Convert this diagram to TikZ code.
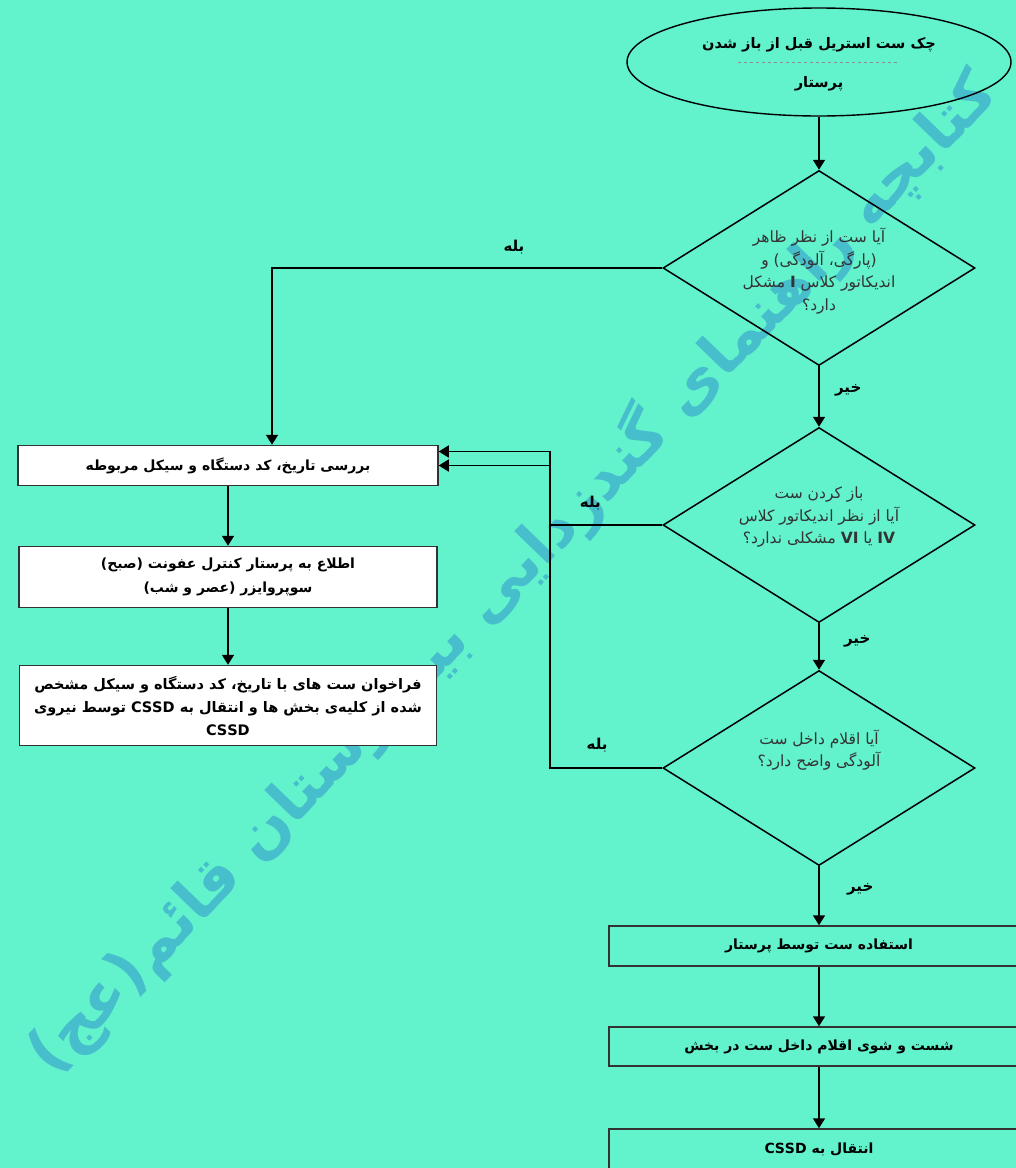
\documentclass[tikz,border=0pt]{standalone}
\usepackage{fontspec}
\usetikzlibrary{arrows.meta,calc,positioning,shapes.geometric}
\newfontfamily\arabicfont[Script=Arabic]{DejaVu Sans}
\TeXXeTstate=1
\definecolor{bgteal}{RGB}{98,242,204}
\definecolor{wmblue}{RGB}{70,190,204}
\definecolor{edgegray}{RGB}{50,50,50}
\newcommand{\prs}[1]{{\arabicfont\beginR #1\endR}}
\newcommand{\ltr}[1]{\beginL #1\endL{}}

\begin{document}
\begin{tikzpicture}[x=1pt,y=-1pt,>={Triangle[length=10pt,width=12pt]},every node/.style={align=center},
    box/.style={draw=edgegray,line width=1.5pt,minimum width=420pt,minimum height=40pt,inner sep=0pt,font=\fontsize{14}{23.5}\selectfont\bfseries},
    ask/.style={draw,diamond,line width=1.5pt,minimum width=312pt,minimum height=195pt,inner sep=0pt},
    asktext/.style={font=\fontsize{15.5}{22.5}\selectfont,text=black!80},
    ans/.style={font=\fontsize{15}{16}\selectfont\bfseries},
    flow/.style={->,line width=1.6pt}]
    \fill[bgteal] (0,0) rectangle (1016,1168);
    \useasboundingbox (0,0) rectangle (1016,1168);
    \clip (0,0) rectangle (1016,1168);
    % watermark
    \node[rotate=46,text=wmblue,font=\fontsize{61}{61}\selectfont\bfseries] (wm) at (512,572) {\prs{کتابچه راهنمای گندزدایی بیمارستان قائم(عج)}};
    % start
    \node[draw,ellipse,line width=1.4pt,minimum width=384pt,minimum height=108pt] (start) at (819,62) {};
    \node[font=\fontsize{14.5}{16}\selectfont\bfseries] (title) at (819,45) {\prs{چک ست استریل قبل از باز شدن}};
    \node[font=\fontsize{14.5}{16}\selectfont\bfseries] (who) at (819,84) {\prs{پرستار}};
    \draw[black!45,dashed,thin] ([xshift=-81pt]start.center) -- ([xshift=80pt]start.center);
    % questions
    \node[ask] (q1) at (819,268) {};
    \node[asktext] (q1t) at (819,271) {\prs{آیا ست از نظر ظاهر}\\ \prs{(پارگی، آلودگی) و}\\ \prs{اندیکاتور کلاس \textbf{I} مشکل}\\ \prs{دارد؟}};
    \node[ask] (q2) at (819,525) {};
    \node[asktext] (q2t) at (819,517) {\prs{باز کردن ست}\\ \prs{آیا از نظر اندیکاتور کلاس}\\ \prs{\textbf{IV} یا \textbf{VI} مشکلی ندارد؟}};
    \node[ask] (q3) at (819,768) {};
    \node[asktext] (q3t) at (819,750) {\prs{آیا اقلام داخل ست}\\ \prs{آلودگی واضح دارد؟}};
    % left column
    \node[box,fill=white] (chk) at (228,465.5) {\prs{بررسی تاریخ، کد دستگاه و سیکل مربوطه}};
    \node[box,fill=white,minimum width=418pt,minimum height=61pt] (inf) at (228,577) {\prs{اطلاع به پرستار کنترل عفونت (صبح)}\\ \prs{سوپروایزر (عصر و  شب)}};
    \node[box,fill=white,minimum width=417pt,minimum height=80pt,font=\fontsize{14.5}{23}\selectfont\bfseries] (rec) at (228,705.5) {\prs{فراخوان ست های با تاریخ، کد دستگاه و سیکل مشخص}\\ \prs{شده از کلیه‌ی بخش ها و انتقال به \ltr{CSSD} توسط نیروی}\\ {\arabicfont CSSD}};
    % right column
    \node[box] (use) at (819,946) {\prs{استفاده ست توسط پرستار}};
    \node[box,minimum height=39pt] (wash) at (819,1046.5) {\prs{شست و شوی اقلام داخل ست در بخش}};
    \node[box] (send) at (819,1149) {\prs{انتقال به \ltr{CSSD}}};
    \coordinate (bus) at (550,465);
    \coordinate (chkin) at ([yshift=14pt]chk.east);
    % connectors
    \draw[flow] (start.south) -- (q1.north);
    \draw[flow] (q1.south) -- node[ans,pos=0.4,right=12pt] (no1) {\prs{خیر}} (q2.north);
    \draw[flow] (q2.south) -- node[ans,pos=0.38,right=21pt] (no2) {\prs{خیر}} (q3.north);
    \draw[flow] (q3.south) -- node[ans,pos=0.39,right=24pt] (no3) {\prs{خیر}} (use.north);
    \draw[flow] (q1.west) -| node[ans,pos=0.19,above=10pt] (yes1) {\prs{بله}} ([xshift=44pt]chk.north);
    \draw[flow] (q2.west) -| node[ans,pos=0.32,above=11pt] (yes2) {\prs{بله}} (bus |- chk.east) -- (chk.east);
    \draw[flow] (q3.west) -| node[ans,pos=0.29,above=12pt] (yes3) {\prs{بله}} (bus |- chkin) -- (chkin);
    \draw[flow] (chk.south) -- (inf.north);
    \draw[flow] (inf.south) -- (rec.north);
    \draw[flow] (use.south) -- (wash.north);
    \draw[flow] (wash.south) -- (send.north);
\end{tikzpicture}
\end{document}
